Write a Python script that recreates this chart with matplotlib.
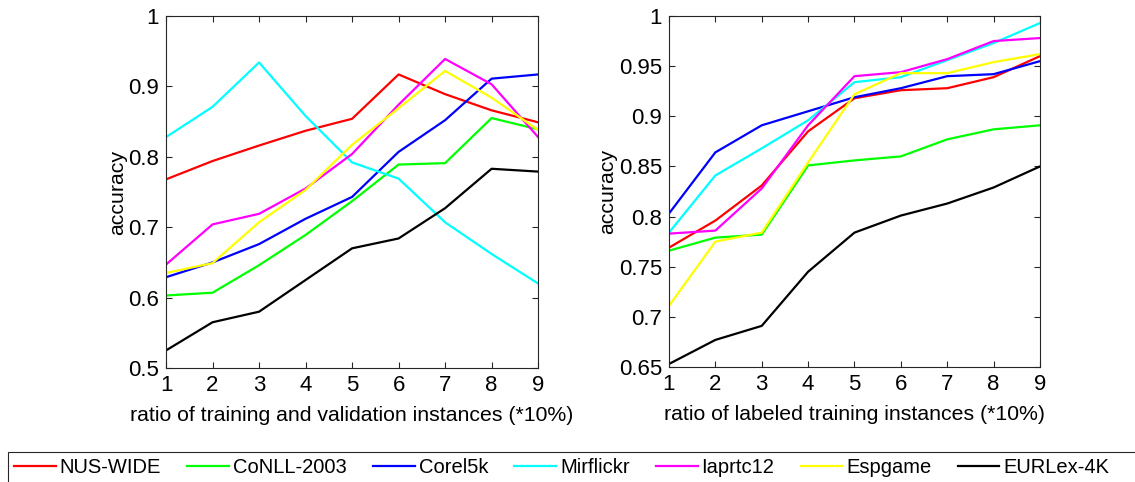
import matplotlib
matplotlib.use("Agg")
import matplotlib.pyplot as plt
from matplotlib.patches import Rectangle
import numpy as np

plt.rcParams['font.family'] = ['Liberation Sans', 'DejaVu Sans']

# data
ratios = [1, 2, 3, 4, 5, 6, 7, 8, 9]
names = ["NUS-WIDE", "CoNLL-2003", "Corel5k", "Mirflickr", "Iaprtc12", "Espgame", "EURLex-4K"]
colors = ["#ff0000", "#00ff00", "#0000ff", "#00ffff", "#ff00ff", "#ffff00", "#000000"]

# left panel: ratio of training and validation instances
nus_left = [0.768, 0.794, 0.816, 0.837, 0.854, 0.917, 0.889, 0.866, 0.849]
conll_left = [0.603, 0.607, 0.646, 0.689, 0.737, 0.789, 0.791, 0.855, 0.839]
corel_left = [0.629, 0.650, 0.676, 0.712, 0.743, 0.807, 0.852, 0.911, 0.917]
mir_left = [0.828, 0.871, 0.934, 0.858, 0.792, 0.769, 0.707, 0.662, 0.620]
iap_left = [0.647, 0.704, 0.719, 0.755, 0.804, 0.874, 0.939, 0.903, 0.828]
esp_left = [0.635, 0.649, 0.707, 0.753, 0.817, 0.869, 0.922, 0.884, 0.838]
eur_left = [0.525, 0.565, 0.580, 0.625, 0.670, 0.684, 0.727, 0.783, 0.779]

# right panel: ratio of labeled training instances
nus_right = [0.769, 0.796, 0.831, 0.885, 0.918, 0.926, 0.928, 0.939, 0.960]
conll_right = [0.766, 0.779, 0.782, 0.851, 0.856, 0.860, 0.877, 0.887, 0.891]
corel_right = [0.803, 0.864, 0.891, 0.905, 0.919, 0.928, 0.940, 0.942, 0.955]
mir_right = [0.784, 0.841, 0.868, 0.896, 0.934, 0.939, 0.956, 0.973, 0.993]
iap_right = [0.783, 0.786, 0.828, 0.891, 0.940, 0.944, 0.957, 0.975, 0.978]
esp_right = [0.711, 0.775, 0.784, 0.854, 0.922, 0.943, 0.943, 0.954, 0.962]
eur_right = [0.653, 0.677, 0.691, 0.745, 0.784, 0.801, 0.813, 0.829, 0.850]

left_series = [nus_left, conll_left, corel_left, mir_left, iap_left, esp_left, eur_left]
right_series = [nus_right, conll_right, corel_right, mir_right, iap_right, esp_right, eur_right]

fig = plt.figure(figsize=(11.35, 4.82), dpi=100)
ax1 = fig.add_axes([0.1463, 0.2365, 0.3278, 0.7303])
ax2 = fig.add_axes([0.5894, 0.2386, 0.3269, 0.7282])


def style(ax, xlabel, ylim, yticks, ylabels):
    ax.set_xlim(1, 9)
    ax.set_ylim(*ylim)
    ax.set_xticks(ratios)
    ax.set_yticks(yticks)
    ax.set_yticklabels(ylabels)
    ax.tick_params(direction='in', top=True, right=True, length=4,
                   width=0.8, labelsize=16, color='#262626', pad=5)
    for sp in ax.spines.values():
        sp.set_color('#262626')
        sp.set_linewidth(0.8)
    ax.set_xlabel(xlabel, fontsize=15.3, labelpad=7)
    ax.set_ylabel("accuracy", fontsize=15.3, labelpad=1)


lines = []
for vals, c, n in zip(left_series, colors, names):
    l, = ax1.plot(ratios, vals, color=c, lw=1.6, label=n)
    lines.append(l)
for vals, c in zip(right_series, colors):
    ax2.plot(ratios, vals, color=c, lw=1.6)

style(ax1, "ratio of training and validation instances (*10%)", (0.5, 1.0),
      [0.5, 0.6, 0.7, 0.8, 0.9, 1.0], ["0.5", "0.6", "0.7", "0.8", "0.9", "1"])
style(ax2, "ratio of labeled training instances (*10%)", (0.65, 1.0),
      [0.65, 0.7, 0.75, 0.8, 0.85, 0.9, 0.95, 1.0],
      ["0.65", "0.7", "0.75", "0.8", "0.85", "0.9", "0.95", "1"])

# legend box runs off the right edge in the original
fig.patches.append(Rectangle((0.007, -0.05), 1.0, 0.112, transform=fig.transFigure,
                             fill=False, edgecolor='#262626', lw=0.8))
leg = fig.legend(lines, names, loc='upper left', bbox_to_anchor=(0.007, 0.063),
                 ncol=7, fontsize=14.5, frameon=False,
                 handlelength=2.07, handletextpad=0.2, columnspacing=1.3,
                 borderpad=0.3, borderaxespad=0)

fig.savefig("out.png", dpi=100)
